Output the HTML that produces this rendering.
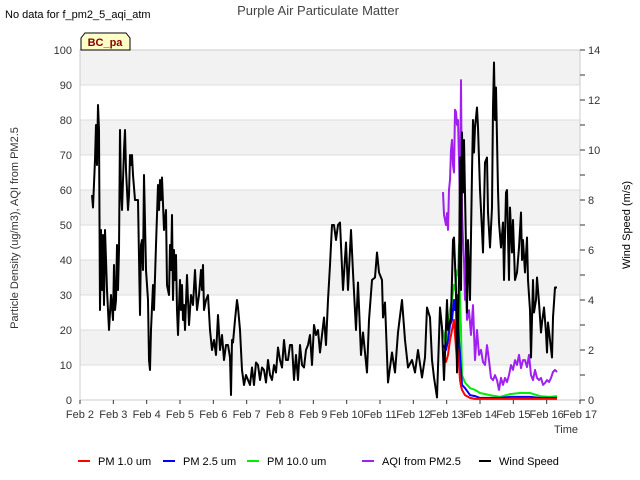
<!DOCTYPE html>
<html><head><meta charset="utf-8">
<style>
body{margin:0;background:#fff;font-family:"Liberation Sans",sans-serif;}
svg{display:block}
</style></head>
<body>
<svg id="chart" width="640" height="480" viewBox="0 0 640 480" xmlns="http://www.w3.org/2000/svg" font-family="Liberation Sans, sans-serif">
<text x="5" y="18" font-size="11" fill="#000">No data for f_pm2_5_aqi_atm</text>
<text x="318" y="15" font-size="13" fill="#444" text-anchor="middle">Purple Air Particulate Matter</text>
<g id="bands"></g>
<g id="grid"></g>
<rect x="80" y="50" width="500" height="350" fill="none" stroke="#ccc"/>
<g id="yticks"></g>
<g id="rticks"></g>
<g id="xticks"></g>
<g id="series"></g>
<path d="M81,50 L81,38 L85,33 L126,33 L130,38 L130,50 Z" fill="#ffffc8" stroke="#000" stroke-width="1"/>
<text x="105" y="46" font-size="11" font-weight="bold" fill="#8b0000" text-anchor="middle">BC_pa</text>
<text x="18" y="228" font-size="11" fill="#333" text-anchor="middle" transform="rotate(-90 18 228)">Particle Density (ug/m3), AQI from PM2.5</text>
<text x="630" y="225" font-size="11" fill="#000" text-anchor="middle" transform="rotate(-90 630 225)">Wind Speed (m/s)</text>
<text x="566" y="433" font-size="11" fill="#333" text-anchor="middle">Time</text>
<g id="legend"></g>
</svg>
<script>
const xLabels=["Feb 2","Feb 3","Feb 4","Feb 5","Feb 6","Feb 7","Feb 8","Feb 9","Feb 10","Feb 11","Feb 12","Feb 13","Feb 14","Feb 15","Feb 16","Feb 17"];
const yTicks=[0,10,20,30,40,50,60,70,80,90,100];
const rTicks=[0,2,4,6,8,10,12,14];
const windDays=[0.36,0.39,0.45,0.48,0.51,0.54,0.57,0.60,0.63,0.66,0.69,0.72,0.75,0.81,0.87,0.93,0.99,1.02,1.05,1.08,1.11,1.14,1.17,1.20,1.23,1.26,1.32,1.35,1.38,1.44,1.47,1.50,1.53,1.56,1.59,1.65,1.74,1.80,1.83,1.86,1.89,1.92,1.98,2.04,2.07,2.10,2.13,2.19,2.22,2.28,2.31,2.34,2.37,2.40,2.43,2.46,2.52,2.58,2.61,2.67,2.70,2.73,2.76,2.79,2.82,2.85,2.88,2.91,2.94,3.00,3.03,3.06,3.09,3.12,3.15,3.21,3.27,3.33,3.39,3.45,3.51,3.57,3.63,3.66,3.69,3.72,3.78,3.84,3.90,3.96,4.02,4.08,4.14,4.20,4.26,4.32,4.38,4.44,4.50,4.53,4.56,4.59,4.65,4.71,4.74,4.80,4.86,4.92,4.98,5.04,5.10,5.16,5.22,5.28,5.34,5.40,5.46,5.52,5.58,5.64,5.70,5.76,5.82,5.88,5.94,6.00,6.06,6.12,6.18,6.24,6.30,6.36,6.42,6.48,6.54,6.60,6.66,6.72,6.78,6.84,6.90,6.96,7.02,7.08,7.14,7.20,7.26,7.32,7.38,7.44,7.50,7.56,7.62,7.68,7.74,7.80,7.89,7.98,8.04,8.13,8.19,8.28,8.34,8.43,8.49,8.61,8.67,8.76,8.85,8.91,8.97,9.06,9.09,9.15,9.24,9.36,9.45,9.54,9.66,9.75,9.84,9.96,10.05,10.14,10.26,10.35,10.41,10.50,10.56,10.62,10.71,10.80,10.86,10.92,11.01,11.04,11.13,11.19,11.22,11.28,11.31,11.37,11.40,11.43,11.46,11.49,11.52,11.58,11.61,11.64,11.70,11.76,11.79,11.82,11.85,11.91,11.94,12.00,12.06,12.09,12.15,12.21,12.24,12.30,12.36,12.39,12.42,12.45,12.48,12.54,12.57,12.63,12.69,12.72,12.78,12.81,12.87,12.90,12.96,12.99,13.05,13.11,13.17,13.23,13.26,13.29,13.35,13.41,13.44,13.50,13.53,13.59,13.62,13.68,13.71,13.77,13.83,13.86,13.92,13.98,14.01,14.04,14.10,14.16,14.19,14.25,14.31];
const windSpeed=[8.2,7.7,9.6,11.0,9.4,11.8,10.8,3.6,6.8,4.4,6.6,3.8,6.8,4.4,2.8,4.2,3.2,5.4,3.6,4.0,6.2,4.4,6.0,10.8,8.4,7.6,10.0,10.8,9.2,7.6,8.2,9.8,9.4,9.8,9.0,8.0,8.0,3.4,6.2,6.4,5.2,9.0,5.2,4.0,1.6,1.2,2.8,4.6,3.6,6.2,7.4,8.6,7.6,8.8,8.0,8.9,6.8,7.6,4.6,4.2,6.2,5.2,7.4,4.0,6.0,4.8,5.8,3.6,2.6,4.8,3.6,4.6,3.2,3.8,2.8,5.0,3.0,4.2,3.8,5.2,3.6,4.2,5.2,4.4,5.4,3.6,4.0,4.2,2.8,2.0,2.4,1.8,3.4,2.0,2.6,1.6,2.2,2.2,1.7,0.2,2.4,2.3,3.2,4.0,3.7,2.8,1.2,0.6,1.0,0.8,0.6,1.3,0.6,1.5,1.4,0.8,1.3,1.2,0.7,1.6,1.0,0.8,1.4,1.1,2.1,1.6,1.3,2.4,1.6,1.6,2.2,2.2,0.8,1.8,0.8,2.2,1.4,1.3,2.0,2.2,2.6,1.4,3.0,2.6,2.8,1.9,2.6,3.3,2.2,4.0,5.4,7.0,7.0,6.4,7.0,7.1,4.4,6.3,4.4,6.8,5.1,2.8,4.7,1.8,2.7,1.1,3.2,4.8,4.9,5.9,5.1,4.8,3.3,3.9,0.7,1.9,1.1,2.7,4.0,2.4,1.3,1.6,1.1,2.0,0.9,1.7,3.7,3.3,1.6,0.9,0.1,3.7,2.9,0.8,4.0,2.8,3.3,6.4,6.5,4.4,1.1,4.8,9.7,4.4,10.7,8.3,10.4,6.1,3.5,6.4,4.0,9.1,11.2,9.9,10.9,11.7,10.9,8.4,6.8,5.9,9.5,9.7,7.5,6.1,7.7,11.7,13.5,11.2,12.5,8.4,7.1,6.1,7.1,4.8,8.3,8.4,4.8,7.7,5.9,7.2,4.8,5.1,6.1,7.5,5.6,6.4,5.1,6.5,4.8,3.6,1.7,4.8,3.5,4.0,4.9,3.9,2.7,3.1,3.7,2.7,1.9,3.1,2.4,1.7,3.3,4.5,4.5];
const aqiDays=[10.89,10.92,10.98,11.01,11.04,11.07,11.10,11.13,11.16,11.19,11.22,11.25,11.28,11.31,11.34,11.37,11.40,11.43,11.46,11.49,11.52,11.55,11.58,11.61,11.67,11.73,11.79,11.85,11.91,11.97,12.03,12.09,12.15,12.21,12.27,12.33,12.39,12.45,12.51,12.57,12.63,12.69,12.75,12.81,12.87,12.93,12.99,13.05,13.11,13.17,13.23,13.29,13.35,13.41,13.47,13.53,13.59,13.65,13.71,13.77,13.83,13.89,13.95,14.01,14.07,14.13,14.19,14.25,14.31];
const aqi=[59.4,52.9,50,53.4,48.6,60,62.9,71.4,74.3,67.1,65,82.9,82.3,78.6,80,68.6,57,91.4,54,45.7,40,28.6,31.4,22.9,25.7,18.6,27.1,11.4,20,12.9,14.3,10.9,10,15.7,11.4,6.3,5.7,7.1,5.7,2.9,6.3,4.3,6.3,5.1,7.1,10,8.6,11.4,10,12.9,9.1,11.4,11.4,9.4,12.9,7.1,5.7,8.6,6.3,5.7,6.3,4.3,4.9,5.7,5.1,6.3,8,8.6,8];
const pmDays=[10.89,10.98,11.04,11.10,11.16,11.22,11.25,11.31,11.34,11.37,11.40,11.43,11.46,11.55,11.70,11.85,12.00,12.30,12.60,12.90,13.20,13.50,13.80,14.10,14.31];
const pm10=[20,15.7,19,25.7,28.6,32.9,31.4,37,35.7,44.3,28.6,20,7.1,5,3.4,2.9,2,1.4,0.9,1.7,2,2,1.1,0.9,1.1];
const pm25=[15.7,14.3,17,21.4,22.9,28.6,25.7,30,27,17,13,8.6,4.3,3.4,1.4,1.1,0.6,0.6,0.6,0.9,0.9,0.9,0.6,0.6,0.6];
const pm1=[12.9,10.9,12.9,17.1,20,22.9,18.6,11.4,14.3,10,5.7,4,2.9,1.4,0.6,0.3,0.3,0.3,0.3,0.3,0.3,0.3,0.3,0.3,0.3];

const NS="http://www.w3.org/2000/svg";
const X0=80,X1=580,Y0=400,Y1=50;
const xs=d=>X0+(X1-X0)*d/15;
const yl=v=>Y0-(Y0-Y1)*v/100;
const yr=v=>Y0-(Y0-Y1)*v/14;
function mk(tag,attrs,parent){const e=document.createElementNS(NS,tag);for(const k in attrs)e.setAttribute(k,attrs[k]);parent.appendChild(e);return e;}
const bands=document.getElementById('bands'),grid=document.getElementById('grid');
for(let i=0;i<yTicks.length-1;i++){
  if(i%2===1){const r=mk('rect',{x:X0,y:yl(yTicks[i+1]),width:X1-X0,height:yl(yTicks[i])-yl(yTicks[i+1]),fill:'#f2f2f2'},bands);
  
  }
}
const yt=document.getElementById('yticks');
yTicks.forEach(v=>{
  const l=mk('line',{x1:X0,x2:X1,y1:yl(v),y2:yl(v),stroke:'#ddd'},grid);
  
  
  const t=mk('text',{x:72,y:yl(v)+4,'font-size':11,fill:'#333','text-anchor':'end'},yt);t.textContent=v;
  
  
});
const rt=document.getElementById('rticks');
for(let v=0;v<=14;v++){
  const l=mk('line',{x1:X1,x2:X1+5,y1:yr(v),y2:yr(v),stroke:'#333'},rt);
  
  
}
rTicks.forEach(v=>{
  const t=mk('text',{x:588,y:yr(v)+4,'font-size':11,fill:'#333'},rt);t.textContent=v;
  
  
});
const xt=document.getElementById('xticks');
xLabels.forEach((s,i)=>{
  const l=mk('line',{x1:xs(i),x2:xs(i),y1:Y0,y2:Y0+4,stroke:'#333'},xt);
  
  
  const t=mk('text',{x:xs(i),y:418,'font-size':11,fill:'#333','text-anchor':'middle'},xt);t.textContent=s;
  
  
});
const sg=document.getElementById('series');
function line(days,vals,sc,color,name){
  const d=days.map((t,i)=>(i?'L':'M')+xs(t).toFixed(1)+','+sc(vals[i]).toFixed(1)).join(' ');
  const p=mk('path',{d:d,fill:'none',stroke:color,'stroke-width':2,'stroke-linejoin':'round'},sg);
  
  
}
line(pmDays,pm10,yl,'#00ee00','pm10-line');
line(pmDays,pm25,yl,'#0000ff','pm25-line');
line(pmDays,pm1,yl,'#ff0000','pm1-line');
line(aqiDays,aqi,yl,'#a020f0','aqi-line');
line(windDays,windSpeed,yr,'#000000','wind-speed-line');
const lg=document.getElementById('legend');
const items=[["PM 1.0 um","#ff0000",78],["PM 2.5 um","#0000ff",163],["PM 10.0 um","#00ee00",247],["AQI from PM2.5","#a020f0",362],["Wind Speed","#000000",479]];
items.forEach(it=>{
  const g=mk('g',{},lg);
  
  
  mk('line',{x1:it[2],x2:it[2]+12,y1:461,y2:461,stroke:it[1],'stroke-width':2},g);
  const t=mk('text',{x:it[2]+20,y:465,'font-size':11,fill:'#000'},g);t.textContent=it[0];
});
</script>
</body></html>
